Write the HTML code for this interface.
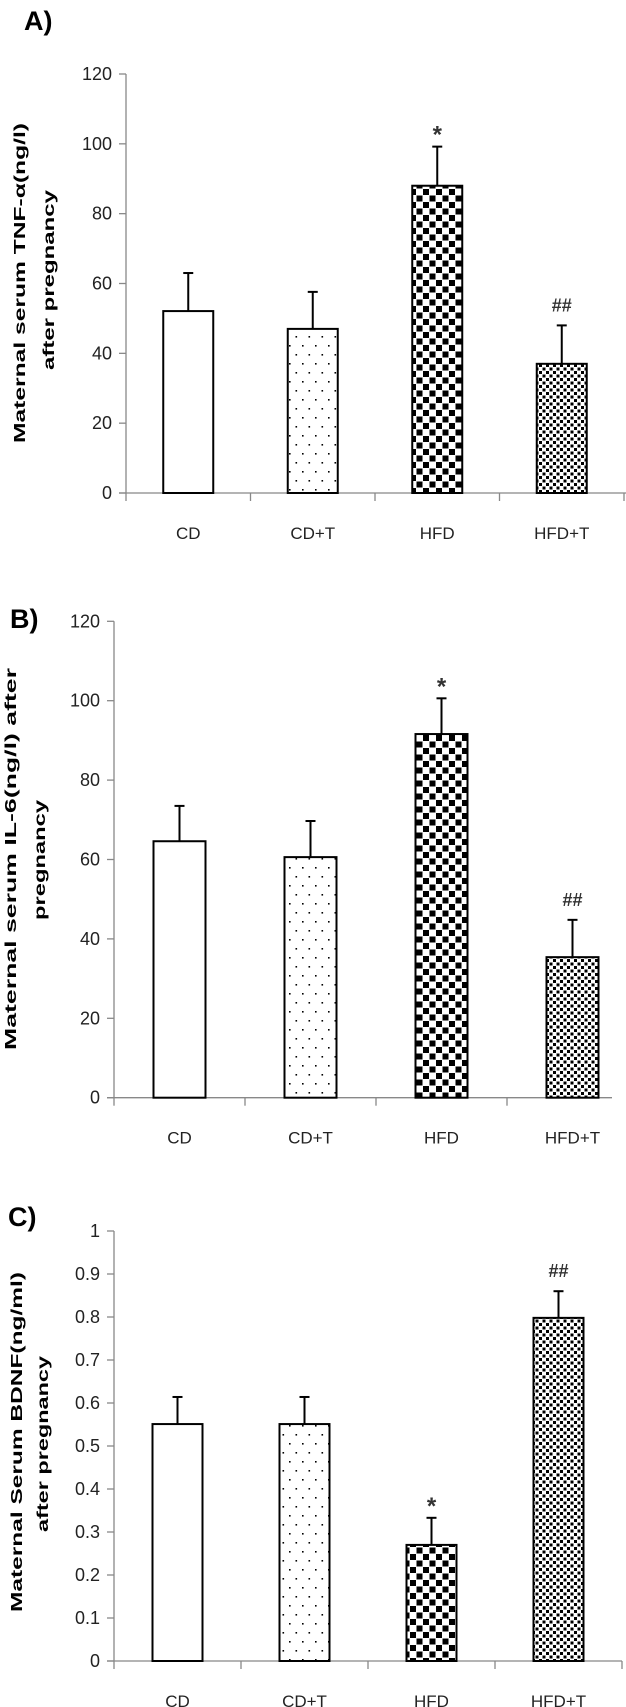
<!DOCTYPE html>
<html><head><meta charset="utf-8"><style>
html,body{margin:0;padding:0;background:#fff;}
svg{display:block;}
text{font-family:"Liberation Sans",sans-serif;}
</style></head><body>
<svg id="fig" width="626" height="1707" viewBox="0 0 626 1707" xmlns="http://www.w3.org/2000/svg">
<defs>
<pattern id="p-sparse" patternUnits="userSpaceOnUse" width="13" height="18"><rect x="3" y="3" width="1.6" height="1.6" fill="#000"/><rect x="9.5" y="12" width="1.6" height="1.6" fill="#000"/></pattern>
<pattern id="p-check" patternUnits="userSpaceOnUse" width="13" height="13"><rect width="13" height="13" fill="#fff"/><rect x="0.5" y="0.5" width="6" height="6" fill="#000"/><rect x="7" y="7" width="6" height="6" fill="#000"/></pattern>
<pattern id="p-dense" patternUnits="userSpaceOnUse" width="7" height="7"><rect width="7" height="7" fill="#fff"/><rect x="0" y="0" width="3" height="3" fill="#000"/><rect x="3.5" y="3.5" width="3" height="3" fill="#000"/></pattern>
</defs>
</svg>
<script>
const categories = ["CD", "CD+T", "HFD", "HFD+T"];
const tnfValues = [52.1, 47, 88, 37];
const tnfErrors = [63, 57.6, 99.2, 48];
const tnfMarks = ["", "", "*", "##"];
const tnfTicks = ["0", "20", "40", "60", "80", "100", "120"];
const il6Values = [64.6, 60.6, 91.6, 35.4];
const il6Errors = [73.5, 69.7, 100.6, 44.8];
const il6Marks = ["", "", "*", "##"];
const il6Ticks = ["0", "20", "40", "60", "80", "100", "120"];
const bdnfValues = [0.551, 0.551, 0.27, 0.798];
const bdnfErrors = [0.614, 0.614, 0.333, 0.86];
const bdnfMarks = ["", "", "*", "##"];
const bdnfTicks = ["0", "0.1", "0.2", "0.3", "0.4", "0.5", "0.6", "0.7", "0.8", "0.9", "1"];

const NS = "http://www.w3.org/2000/svg";
const svg = document.getElementById("fig");
const fills = ["#fff", "url(#p-sparse)", "url(#p-check)", "url(#p-dense)"];

function mk(tag, attrs, parent) {
  const e = document.createElementNS(NS, tag);
  for (const k in attrs) e.setAttribute(k, attrs[k]);
  (parent || svg).appendChild(e);
  return e;
}

function panel(cfg, values, errors, marks, ticks) {
  const g = mk("g", {});
  
  
  const maxV = parseFloat(ticks[ticks.length - 1]);
  const y = v => cfg.y0 - (v / maxV) * (cfg.y0 - cfg.yTop);
  const x = i => cfg.ax + (i + 0.5) * cfg.step;
  const lt = mk("text", {x: cfg.letterX, y: cfg.letterY, "font-size": 27, "font-weight": "bold", fill: "#000"}, g);
  lt.textContent = cfg.letter;
  
  
  const ya = mk("line", {x1: cfg.ax, y1: cfg.yTop, x2: cfg.ax, y2: cfg.y0, stroke: "#888", "stroke-width": 1.3}, g);
  
  
  ticks.forEach(t => {
    const ty = y(parseFloat(t));
    const tk = mk("line", {x1: cfg.ax - 7, y1: ty, x2: cfg.ax, y2: ty, stroke: "#888", "stroke-width": 1.3}, g);
    
    
    const tl = mk("text", {x: cfg.ax - 14, y: ty + 6, "font-size": 18, "text-anchor": "end", fill: "#222"}, g);
    tl.textContent = t;
    
    
  });
  const xa = mk("line", {x1: cfg.ax - 7, y1: cfg.y0, x2: cfg.xEnd, y2: cfg.y0, stroke: "#888", "stroke-width": 1.3}, g);
  
  
  for (let i = 0; i <= categories.length; i++) {
    const tx = cfg.ax + i * cfg.step;
    const tk = mk("line", {x1: tx, y1: cfg.y0, x2: tx, y2: cfg.y0 + 8, stroke: "#888", "stroke-width": 1.3}, g);
    
    
  }
  categories.forEach((c, i) => {
    const cx = x(i);
    const bw = cfg.bw;
    const bar = mk("rect", {x: cx - bw / 2, y: y(values[i]), width: bw, height: cfg.y0 - y(values[i]), fill: fills[i], stroke: "#000", "stroke-width": 2}, g);
    
    
    const el = mk("line", {x1: cx, y1: y(values[i]), x2: cx, y2: y(errors[i]), stroke: "#000", "stroke-width": 2}, g);
    
    
    const ec = mk("line", {x1: cx - 5, y1: y(errors[i]), x2: cx + 5, y2: y(errors[i]), stroke: "#000", "stroke-width": 2}, g);
    
    
    if (marks[i]) {
      const m = mk("text", {x: cx, y: y(errors[i]) - (marks[i] === "*" ? 4 : 14), "font-size": marks[i] === "*" ? 24 : 18, "font-weight": "bold", "text-anchor": "middle", fill: "#333"}, g);
      m.textContent = marks[i];
      
      
    }
    const cl = mk("text", {x: cx, y: cfg.y0 + 46, "font-size": 17, "text-anchor": "middle", fill: "#222"}, g);
    cl.textContent = c;
    
    
  });
  cfg.titles.forEach(tt => {
    const t = mk("text", {x: 0, y: 0, "font-size": 16, "font-weight": "bold", "text-anchor": "middle", fill: "#000", textLength: tt.len, lengthAdjust: "spacingAndGlyphs", transform: "translate(" + tt.bx + "," + tt.cy + ") rotate(-90)"}, g);
    t.textContent = tt.text;
    
    
  });
}

panel({name: "panel-a-tnf", letter: "A)", letterX: 24, letterY: 30, ax: 126, step: 124.5, bw: 50, y0: 493, yTop: 74, xEnd: 626,
  titles: [{text: "Maternal serum TNF-α(ng/l)", bx: 25, cy: 283, len: 320}, {text: "after pregnancy", bx: 54, cy: 280, len: 180}]},
  tnfValues, tnfErrors, tnfMarks, tnfTicks);
panel({name: "panel-b-il6", letter: "B)", letterX: 10, letterY: 628, ax: 114, step: 131, bw: 52, y0: 1097.7, yTop: 621.3, xEnd: 612,
  titles: [{text: "Maternal serum IL-6(ng/l) after", bx: 16, cy: 859, len: 382}, {text: "pregnancy", bx: 45, cy: 860, len: 120}]},
  il6Values, il6Errors, il6Marks, il6Ticks);
panel({name: "panel-c-bdnf", letter: "C)", letterX: 8, letterY: 1226, ax: 114, step: 127, bw: 50, y0: 1661, yTop: 1231, xEnd: 622,
  titles: [{text: "Maternal Serum BDNF(ng/ml)", bx: 22, cy: 1442, len: 340}, {text: "after pregnancy", bx: 48, cy: 1444, len: 176}]},
  bdnfValues, bdnfErrors, bdnfMarks, bdnfTicks);
</script>
</body></html>
